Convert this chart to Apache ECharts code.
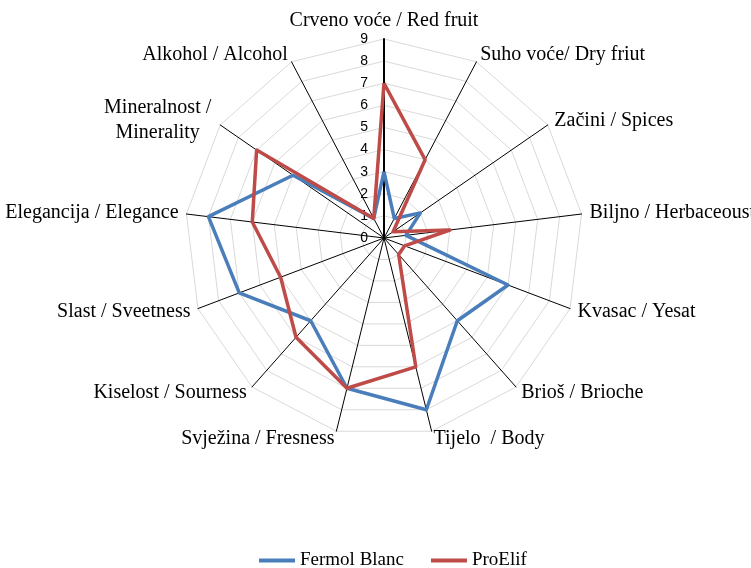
<!DOCTYPE html>
<html>
<head>
<meta charset="utf-8">
<script src="https://cdn.jsdelivr.net/npm/echarts@6/dist/echarts.min.js"></script>
<style>
  html, body { margin: 0; padding: 0; background: #fff; }
  #main { width: 751px; height: 568px; }
</style>
</head>
<body>
<div id="main"></div>
<script>
  // osi (u smjeru kazaljke na satu, od vrha)
  var categories = [
    'Crveno voće / Red fruit',
    'Suho voće/ Dry friut',
    'Začini / Spices',
    'Biljno / Herbaceoust',
    'Kvasac / Yesat',
    'Brioš / Brioche',
    'Tijelo  / Body',
    'Svježina / Fresness',
    'Kiselost / Sourness',
    'Slast / Sveetness',
    'Elegancija / Elegance',
    'Mineralnost /\nMinerality',
    'Alkohol / Alcohol'
  ]
  var fermolBlanc = [3, 1, 2, 1, 6, 5, 8, 7, 5, 7, 8, 5, 1]
  var proElif = [7, 4, 0.5, 3, 1, 1, 6, 7, 6, 5, 6, 7, 1]
  var maxValue = 9

  // echarts radar ide suprotno od kazaljke, pa okrenemo redoslijed (prvi ostaje gore)
  function clockwise(arr) {
    return [arr[0]].concat(arr.slice(1).reverse())
  }

  var myChart = echarts.init(document.getElementById('main'))

  var indicators = clockwise(categories).map(function (name, i) {
    var ind = { name: name, min: 0, max: maxValue }
    if (i === 0) {
      ind.axisLabel = { show: true }
      ind.axisLine = { lineStyle: { color: '#000', width: 2 } }
    }
    return ind
  })

  myChart.setOption({
    animation: false,
    color: ['#4A7EBB', '#BE4B48'],
    legend: {
      top: 546,
      left: 254,
      itemWidth: 36,
      itemHeight: 4,
      itemGap: 27,
      icon: 'rect',
      textStyle: { fontFamily: 'Liberation Serif', fontSize: 19, color: '#000' },
      data: ['Fermol Blanc', 'ProElif']
    },
    radar: {
      center: [384, 238],
      radius: 199,
      startAngle: 90,
      splitNumber: 9,
      shape: 'polygon',
      indicator: indicators,
      nameGap: 8,
      axisName: {
        color: '#000',
        fontFamily: 'Liberation Serif',
        fontSize: 20,
        formatter: function (name) {
          if (name.indexOf('\n') >= 0) {
            return name.split('\n').map(function (s) { return '{c|' + s + '}' }).join('\n')
          }
          return name
        },
        rich: {
          c: { align: 'center', width: 112, fontFamily: 'Liberation Serif', fontSize: 20, color: '#000', lineHeight: 25 }
        }
      },
      axisLine: { lineStyle: { color: '#000', width: 1 } },
      splitLine: { lineStyle: { color: '#D9D9D9', width: 1 } },
      splitArea: { show: false },
      axisTick: { show: false },
      axisLabel: {
        show: false,
        color: '#000',
        fontFamily: 'Liberation Sans',
        fontSize: 14,
        margin: 16,
        showMinLabel: true,
        showMaxLabel: true
      }
    },
    series: [{
      type: 'radar',
      symbol: 'none',
      lineStyle: { width: 3.5 },
      data: [
        { name: 'Fermol Blanc', value: clockwise(fermolBlanc) },
        { name: 'ProElif', value: clockwise(proElif) }
      ]
    }]
  })
</script>
</body>
</html>
